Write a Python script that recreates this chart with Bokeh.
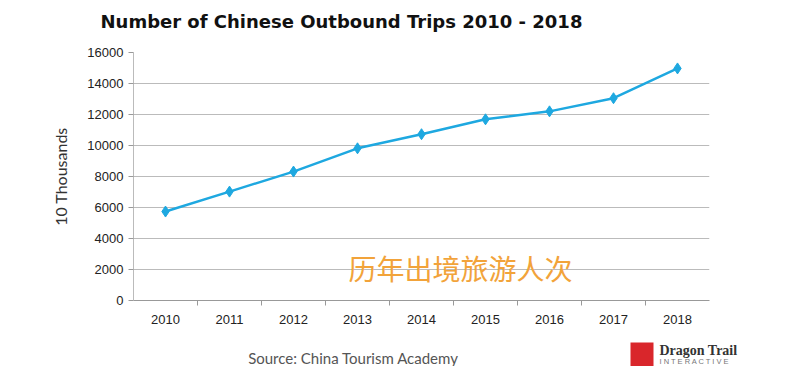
from bokeh.plotting import figure
from bokeh.models import Range1d, FixedTicker, Label, BoxAnnotation
from bokeh.layouts import column, row
from bokeh.embed import file_html
from bokeh.resources import INLINE

years = ["2010", "2011", "2012", "2013", "2014", "2015", "2016", "2017", "2018"]
trips = [5739, 7025, 8318, 9819, 10728, 11689, 12203, 13051, 14972]
y_ticks = [0, 2000, 4000, 6000, 8000, 10000, 12000, 14000, 16000]

xs = [i + 0.5 for i in range(len(years))]


def strip(y0, y1):
    s = figure(width=784, height=y1 - y0, output_backend="svg", toolbar_location=None,
               x_range=Range1d(0, 784), y_range=Range1d(y1, y0),
               min_border=0, x_axis_type=None, y_axis_type=None)
    s.outline_line_color = None
    s.grid.grid_line_color = None
    return s


# header strip: title (coordinates = page pixels)
h = strip(0, 40)
h.add_layout(Label(x=100, y=21, text="Number of Chinese Outbound Trips 2010 - 2018",
                   text_align="left", text_baseline="middle", text_font="DejaVu Sans",
                   text_font_style="bold", text_font_size="18px", text_color="#111111"))

p = figure(width=784, height=290, output_backend="svg", toolbar_location=None,
           x_range=Range1d(0, len(years)), y_range=Range1d(0, 16000),
           min_border_left=133, min_border_right=75, min_border_top=12, min_border_bottom=30)
p.outline_line_color = None
p.background_fill_color = "white"

p.xaxis.ticker = FixedTicker(ticks=xs, minor_ticks=list(range(1, len(years))))
p.xaxis.major_label_overrides = {x: y for x, y in zip(xs, years)}
p.xaxis.major_tick_line_color = None
p.xaxis.major_tick_out = 0
p.xaxis.major_tick_in = 0
p.xaxis.minor_tick_out = 5
p.xaxis.minor_tick_in = 0
p.xaxis.minor_tick_line_color = "#999999"
p.xaxis.axis_line_color = "#999999"
p.xaxis.major_label_standoff = 9
p.xaxis.major_label_text_font = "Liberation Sans"
p.xaxis.major_label_text_font_size = "13px"
p.xaxis.major_label_text_color = "#222222"
p.xgrid.grid_line_color = None

p.yaxis.ticker = FixedTicker(ticks=y_ticks)
p.yaxis.minor_tick_line_color = None
p.yaxis.major_tick_out = 5
p.yaxis.major_tick_in = 0
p.yaxis.major_tick_line_color = "#999999"
p.yaxis.axis_line_color = "#bbbbbb"
p.yaxis.major_label_standoff = 5
p.yaxis.major_label_text_font = "Liberation Sans"
p.yaxis.major_label_text_font_size = "13px"
p.yaxis.major_label_text_color = "#222222"
p.yaxis.axis_label = "10 Thousands"
p.yaxis.axis_label_text_font = "Lato"
p.yaxis.axis_label_text_font_style = "normal"
p.yaxis.axis_label_text_font_size = "16px"
p.yaxis.axis_label_text_color = "#333333"
p.yaxis.axis_label_standoff = 14
p.ygrid.grid_line_color = "#bbbbbb"
p.ygrid.grid_line_width = 1

p.line(xs, trips, line_color="#1ea8e0", line_width=2.5)
p.scatter(xs, trips, marker="diamond", size=11, fill_color="#1ea8e0", line_color="#1ea8e0")

p.add_layout(Label(x=5.11, y=2065, text="历年出境旅游人次",
                   text_align="center", text_baseline="middle", text_font="Noto Sans CJK SC",
                   text_font_size="28px", text_color="#f2a33a"))

# footer strip: source note and logo (coordinates = page pixels)
f = strip(330, 366)
f.add_layout(Label(x=353, y=357, text="Source: China Tourism Academy",
                   text_align="center", text_baseline="middle", text_font="Lato",
                   text_font_size="15px", text_color="#555555"))
f.add_layout(BoxAnnotation(left=630, right=653, top=342, bottom=366,
                           fill_color="#d9262b", fill_alpha=1, line_color=None))
f.add_layout(Label(x=659, y=350, text="Dragon Trail",
                   text_align="left", text_baseline="middle", text_font="Liberation Serif",
                   text_font_style="bold", text_font_size="14px", text_color="#333333"))
f.add_layout(Label(x=659, y=361, text="I N T E R A C T I V E",
                   text_align="left", text_baseline="middle", text_font="Liberation Sans",
                   text_font_size="7.5px", text_color="#777777"))

open("out.html", "w").write(file_html(column(row(h), p, row(f), spacing=0), INLINE))
